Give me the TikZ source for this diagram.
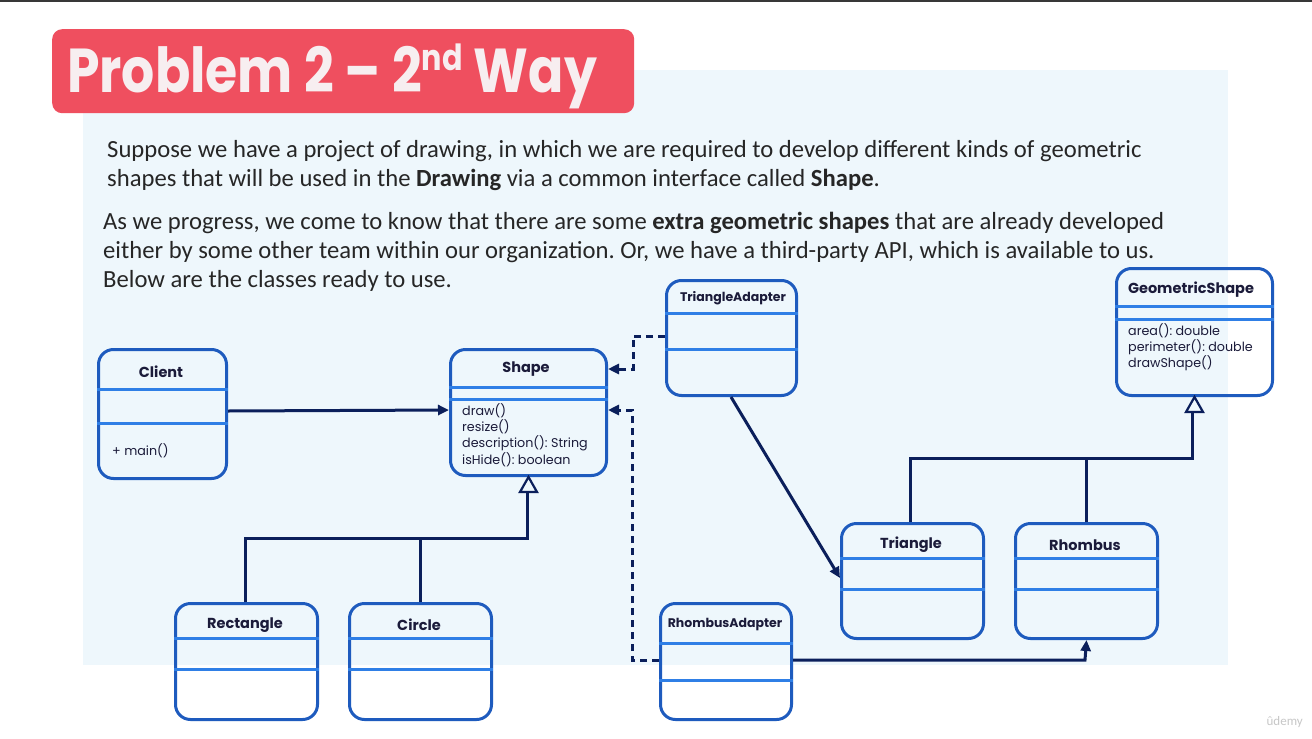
\documentclass[tikz,border=0pt]{standalone}
\usepackage{fontspec}
\setmainfont{Carlito}
\newfontfamily\umlfont{Poppins}
\newfontfamily\titlefont[FakeStretch=0.84]{Poppins}
\usetikzlibrary{arrows.meta,calc}

\definecolor{panel}{HTML}{EEF7FC}
\definecolor{banner}{HTML}{EF4F5F}
\definecolor{bannertext}{HTML}{F7EEF0}
\definecolor{boxline}{HTML}{1E5BBE}
\definecolor{sepline}{HTML}{2F7FE6}
\definecolor{wire}{HTML}{0B1F5B}
\definecolor{bodytext}{HTML}{262626}
\definecolor{umltext}{HTML}{1B1B3A}

\tikzset{
  umlbox/.style={draw=boxline, line width=3pt, rounded corners=15pt,
    anchor=north west, inner sep=0pt},
  sep/.style={draw=sepline, line width=3pt},
  cname/.style={font=\umlfont\bfseries\fontsize{14.5}{16}\selectfont, text=umltext, inner sep=0pt},
  aname/.style={font=\umlfont\bfseries\fontsize{12.5}{14}\selectfont, text=umltext, inner sep=0pt},
  methods/.style={font=\umlfont\fontsize{12.7}{16.4}\selectfont, text=umltext,
    align=left, anchor=north west, inner sep=0pt},
  body/.style={font=\fontsize{24.65}{28}\selectfont, text=bodytext, anchor=base west, inner sep=0pt},
  assoc/.style={draw=wire, line width=3pt, -{Triangle[length=11pt,width=10pt]}},
  realize/.style={draw=wire, line width=3pt, dash pattern=on 7pt off 5pt,
    -{Triangle[length=11pt,width=10pt]}},
  inherit/.style={draw=wire, line width=3pt},
  openhead/.style={draw=wire, line width=2.2pt, fill=panel, line join=miter}
}

\begin{document}
\frenchspacing
\begin{tikzpicture}[x=1pt,y=-1pt]
  \useasboundingbox (0,0) rectangle (1312,739);
  \fill[white] (0,0) rectangle (1312,739);
  \fill[black!78] (0,0) rectangle (1312,2);

  % light panel behind the text and the diagram
  \fill[panel] (83,70) rectangle (1228,665);

  % heading banner
  \node[fill=banner, rounded corners=10pt, anchor=north west, minimum width=582pt,
        minimum height=84pt, inner sep=0pt] (banner) at (52,29) {};
  \node[font=\titlefont\bfseries\fontsize{62}{62}\selectfont, text=bannertext,
        anchor=base west, inner sep=0pt] (heading) at (67,92)
        {Problem 2 – 2\raisebox{22pt}{\fontsize{36}{36}\selectfont nd} Way};

  % introductory text
  \node[body] (p1a) at (107,157) {Suppose we have a project of drawing, in which we are required to develop different kinds of geometric};
  \node[body] (p1b) at (107,186) {shapes that will be used in the \textbf{Drawing} via a common interface called \textbf{Shape}.};
  \node[body] (p2a) at (103,229) {As we progress, we come to know that there are some \textbf{extra geometric shapes} that are already developed};
  \node[body] (p2b) at (103,258) {either by some other team within our organization. Or, we have a third-party API, which is available to us.};
  \node[body] (p2c) at (103,287) {Below are the classes ready to use.};

  % ---------- classes ----------
  % Client
  \node[umlbox, minimum width=128pt, minimum height=129pt] (client) at (97,348) {};
  \draw[sep] (client.west |- 0,389) -- (client.east |- 0,389);
  \draw[sep] (client.west |- 0,423) -- (client.east |- 0,423);
  \node[cname] (client-n) at (161,372) {Client};
  \node[methods, anchor=west] (client-m) at (112,451) {+ main()};

  % Shape
  \node[umlbox, minimum width=156pt, minimum height=126pt] (shape) at (449,348) {};
  \draw[sep] (shape.west |- 0,387) -- (shape.east |- 0,387);
  \draw[sep] (shape.west |- 0,399) -- (shape.east |- 0,399);
  \node[cname] (shape-n) at (526,369) {Shape};
  \node[methods] (shape-m) at (462,403) {draw()\\resize()\\description(): String\\isHide(): boolean};

  % TriangleAdapter
  \node[umlbox, minimum width=130pt, minimum height=115pt] (tadapt) at (665,279) {};
  \draw[sep] (tadapt.west |- 0,313) -- (tadapt.east |- 0,313);
  \draw[sep] (tadapt.west |- 0,349) -- (tadapt.east |- 0,349);
  \node[aname] (tadapt-n) at (733,298) {TriangleAdapter};

  % GeometricShape
  \node[umlbox, minimum width=156pt, minimum height=127pt] (geo) at (1115,267) {};
  \draw[sep] (geo.west |- 0,306) -- (geo.east |- 0,306);
  \draw[sep] (geo.west |- 0,319) -- (geo.east |- 0,319);
  \node[cname] (geo-n) at (1191,290) {GeometricShape};
  \node[methods] (geo-m) at (1128,323) {area(): double\\perimeter(): double\\drawShape()};

  % Triangle
  \node[umlbox, minimum width=142pt, minimum height=115pt] (tri) at (840,522) {};
  \draw[sep] (tri.west |- 0,558) -- (tri.east |- 0,558);
  \draw[sep] (tri.west |- 0,589) -- (tri.east |- 0,589);
  \node[cname] (tri-n) at (911,545) {Triangle};

  % Rhombus
  \node[umlbox, minimum width=142pt, minimum height=115pt] (rho) at (1014,522) {};
  \draw[sep] (rho.west |- 0,558) -- (rho.east |- 0,558);
  \draw[sep] (rho.west |- 0,589) -- (rho.east |- 0,589);
  \node[cname] (rho-n) at (1085,545) {Rhombus};

  % Rectangle
  \node[umlbox, minimum width=142pt, minimum height=116pt] (rect) at (174,602) {};
  \draw[sep] (rect.west |- 0,638) -- (rect.east |- 0,638);
  \draw[sep] (rect.west |- 0,669) -- (rect.east |- 0,669);
  \node[cname] (rect-n) at (245,625) {Rectangle};

  % Circle
  \node[umlbox, minimum width=142pt, minimum height=116pt] (circ) at (348,602) {};
  \draw[sep] (circ.west |- 0,638) -- (circ.east |- 0,638);
  \draw[sep] (circ.west |- 0,669) -- (circ.east |- 0,669);
  \node[cname] (circ-n) at (419,625) {Circle};

  % RhombusAdapter
  \node[umlbox, minimum width=131pt, minimum height=116pt] (radapt) at (659,602) {};
  \draw[sep] (radapt.west |- 0,643) -- (radapt.east |- 0,643);
  \draw[sep] (radapt.west |- 0,680) -- (radapt.east |- 0,680);
  \node[aname] (radapt-n) at (725,625) {RhombusAdapter};

  % ---------- connectors ----------
  \coordinate (shape-base) at (527,490);
  \coordinate (geo-base) at (1192,410);
  \coordinate (shape-bus) at (527,538);
  \coordinate (geo-bus) at (1192,458);

  % Client uses Shape
  \draw[assoc] (client.east |- 0,411) -- (shape.west |- 0,410);

  % Rectangle and Circle implement Shape
  \draw[inherit] (rect.north -| 245,0) -- (245,538) -- (shape-bus) -- (shape-base);
  \draw[inherit] (circ.north) -- (circ.north |- shape-bus);
  \draw[openhead] (shape.south) -- ++(8.5,15) -- ++(-17,0) -- cycle;

  % Triangle and Rhombus extend GeometricShape
  \draw[inherit] (tri.north -| 910,0) -- (910,458) -- (geo-bus) -- (geo-base);
  \draw[inherit] (rho.north) -- (rho.north |- geo-bus);
  \draw[openhead] (geo.south) -- ++(8.5,15) -- ++(-17,0) -- cycle;

  % adapters realise Shape
  \draw[realize] (tadapt.west |- 0,336) -- (633,336) -- (633,369) -- (shape.east |- 0,369);
  \draw[realize] (radapt.west |- 0,660) -- (632,660) -- (632,410) -- (shape.east |- 0,410);

  % adapters delegate to the adaptees
  \draw[assoc] ($(tadapt.south west)+(66,0)$) -- ($(tri.north west)+(0,56)$);
  \draw[assoc] (radapt.east |- 0,660) -- (1085,660) -- (rho.south);

  % watermark
  \node[font=\fontsize{13}{13}\selectfont, text=black!22, anchor=east, inner sep=0pt] (mark) at (1303,722) {ûdemy};
\end{tikzpicture}
\end{document}
